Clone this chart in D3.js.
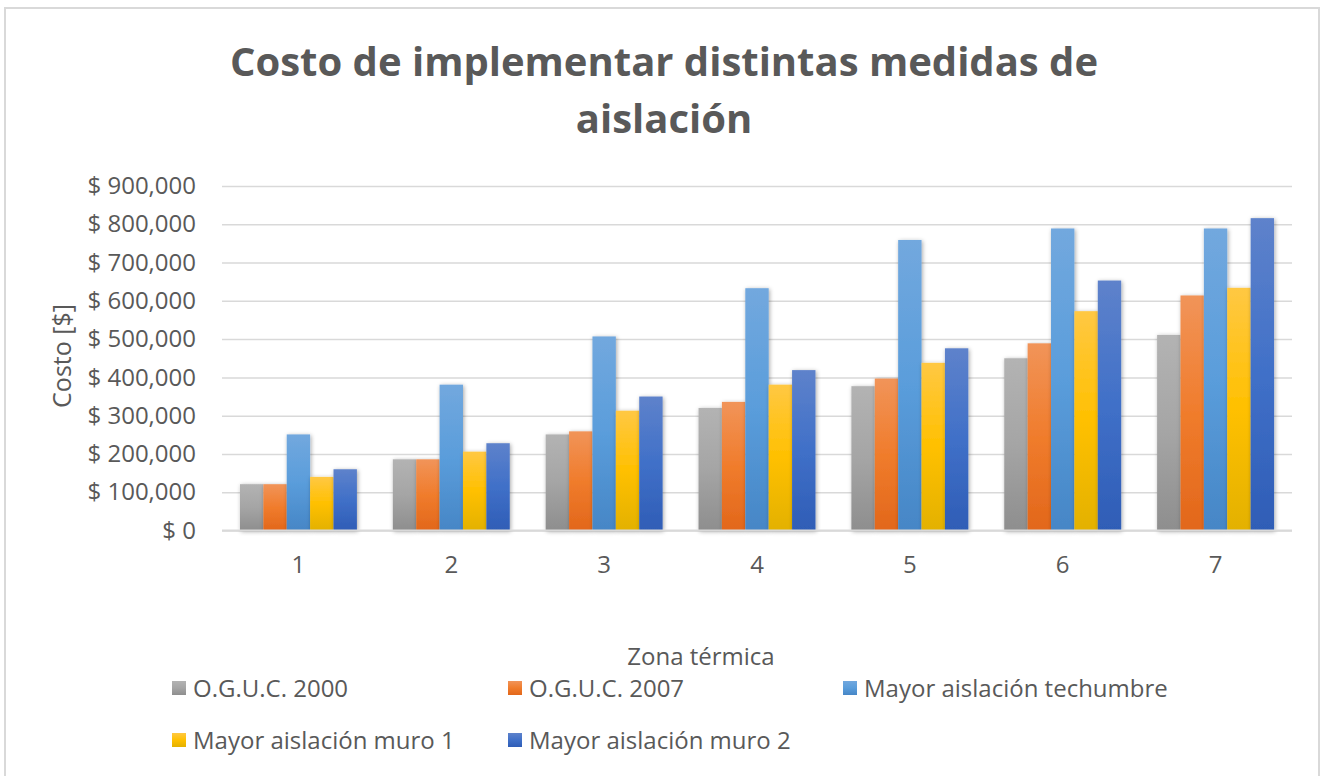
<!DOCTYPE html>
<html>
<head>
<meta charset="utf-8">
<script src="https://cdn.jsdelivr.net/npm/d3@7"></script>
<style>
  html, body { margin: 0; padding: 0; background: #ffffff; }
  svg { display: block; }
  text { font-family: "Open Sans", "Noto Sans", sans-serif; fill: #595959; }
</style>
</head>
<body>
<svg id="chart" width="1325" height="776"></svg>
<script>
// Zonas térmicas (eje X)
const zones = ["1", "2", "3", "4", "5", "6", "7"];

// Costos por medida de aislación, en pesos, para cada zona
const ogus2000   = [121000, 186000, 251000, 320000, 377000, 450000, 511000];
const ogus2007   = [121000, 186000, 259000, 336000, 397000, 489000, 614000];
const techumbre  = [251000, 381000, 507000, 633000, 759000, 789000, 789000];
const muro1      = [140000, 206000, 313000, 381000, 438000, 573000, 634000];
const muro2      = [160000, 228000, 350000, 419000, 476000, 653000, 816000];

const seriesNames = [
  "O.G.U.C. 2000",
  "O.G.U.C. 2007",
  "Mayor aislación techumbre",
  "Mayor aislación muro 1",
  "Mayor aislación muro 2"
];
const seriesValues = [ogus2000, ogus2007, techumbre, muro1, muro2];

const yTicks = [0, 100000, 200000, 300000, 400000, 500000, 600000, 700000, 800000, 900000];

// Colores con degradado vertical (claro arriba, oscuro abajo)
const palette = [
  { top: "#b3b3b3", mid: "#a5a5a5", bottom: "#8e8e8e" },
  { top: "#f19459", mid: "#f07c2c", bottom: "#e2671b" },
  { top: "#72a8de", mid: "#5a9ddb", bottom: "#4686c6" },
  { top: "#ffc843", mid: "#ffc000", bottom: "#e3b100" },
  { top: "#5e82cb", mid: "#4070c8", bottom: "#2f5db6" }
];

const svg = d3.select("#chart");
const defs = svg.append("defs");

palette.forEach((c, i) => {
  const g = defs.append("linearGradient")
    .attr("id", "grad" + i)
    .attr("x1", 0).attr("y1", 0).attr("x2", 0).attr("y2", 1);
  g.append("stop").attr("offset", "0%").attr("stop-color", c.top);
  g.append("stop").attr("offset", "50%").attr("stop-color", c.mid);
  g.append("stop").attr("offset", "100%").attr("stop-color", c.bottom);
});

const shadow = defs.append("filter").attr("id", "barShadow")
  .attr("x", "-30%").attr("y", "-10%").attr("width", "160%").attr("height", "120%");
shadow.append("feDropShadow")
  .attr("dx", 1).attr("dy", 1).attr("stdDeviation", 2.2)
  .attr("flood-color", "#000").attr("flood-opacity", 0.35);

// Marco del gráfico
svg.append("rect")
  .attr("x", 5).attr("y", 8).attr("width", 1314).attr("height", 780)
  .attr("fill", "#ffffff").attr("stroke", "#d9d9d9").attr("stroke-width", 2);

// Título
const title = svg.append("text")
  .attr("text-anchor", "middle")
  .style("font-size", "40px").style("font-weight", "700");
title.append("tspan").attr("x", 664).attr("y", 76).text("Costo de implementar distintas medidas de");
title.append("tspan").attr("x", 664).attr("y", 133).text("aislación");

// Escalas
const plot = { left: 222, right: 1292, top: 186, bottom: 530.5 };

const x = d3.scaleBand()
  .domain(zones)
  .range([plot.left, plot.right])
  .paddingInner(0.235)
  .paddingOuter(0.1175);

const xInner = d3.scaleBand()
  .domain(d3.range(seriesNames.length))
  .range([0, x.bandwidth()])
  .padding(0);

const y = d3.scaleLinear()
  .domain([0, 900000])
  .range([plot.bottom, plot.top]);

const fmt = v => "$ " + d3.format(",")(v);

const labelSize = "24px";

// Líneas de cuadrícula y etiquetas del eje Y
const yAxis = d3.axisLeft(y)
  .tickValues(yTicks)
  .tickSize(-(plot.right - plot.left))
  .tickPadding(26)
  .tickFormat(fmt);

const yg = svg.append("g")
  .attr("transform", `translate(${plot.left},0)`)
  .call(yAxis);
yg.select(".domain").remove();
yg.selectAll(".tick line")
  .attr("stroke", "#d9d9d9").attr("stroke-width", 1.5);
yg.selectAll(".tick text")
  .style("font-size", labelSize)
  .style("font-family", "'Open Sans', sans-serif")
  .attr("fill", "#595959");

// Barras
const groups = svg.append("g").selectAll("g")
  .data(zones)
  .join("g")
  .attr("transform", d => `translate(${x(d)},0)`);

groups.selectAll("rect")
  .data((z, zi) => seriesValues.map((vals, si) => ({ si, v: vals[zi] })))
  .join("rect")
  .attr("x", d => xInner(d.si))
  .attr("y", d => y(d.v))
  .attr("width", xInner.bandwidth())
  .attr("height", d => y(0) - y(d.v))
  .attr("fill", d => `url(#grad${d.si})`)
  .attr("filter", "url(#barShadow)");

// Eje X
const xAxis = d3.axisBottom(x).tickSize(0).tickPadding(25);
const xg = svg.append("g")
  .attr("transform", `translate(0,${plot.bottom})`)
  .call(xAxis);
xg.select(".domain")
  .attr("stroke", "#d9d9d9").attr("stroke-width", 2)
  .attr("d", `M${plot.left},0H${plot.right}`);
xg.selectAll(".tick text")
  .style("font-size", labelSize)
  .style("font-family", "'Open Sans', sans-serif")
  .attr("fill", "#595959");

// Títulos de ejes
svg.append("text")
  .attr("transform", "translate(71,356) rotate(-90)")
  .attr("text-anchor", "middle")
  .style("font-size", "25px")
  .text("Costo [$]");

svg.append("text")
  .attr("x", 701).attr("y", 665)
  .attr("text-anchor", "middle")
  .style("font-size", labelSize)
  .text("Zona térmica");

// Leyenda
const legendPos = [
  { x: 172, y: 688 }, { x: 508, y: 688 }, { x: 843, y: 688 },
  { x: 172, y: 740 }, { x: 508, y: 740 }
];
const legend = svg.append("g").selectAll("g")
  .data(seriesNames)
  .join("g")
  .attr("transform", (d, i) => `translate(${legendPos[i].x},${legendPos[i].y})`);

legend.append("rect")
  .attr("x", 0).attr("y", -7).attr("width", 14).attr("height", 14)
  .attr("fill", (d, i) => `url(#grad${i})`);

legend.append("text")
  .attr("x", 21).attr("y", 8.5)
  .style("font-size", labelSize)
  .text(d => d);
</script>
</body>
</html>
